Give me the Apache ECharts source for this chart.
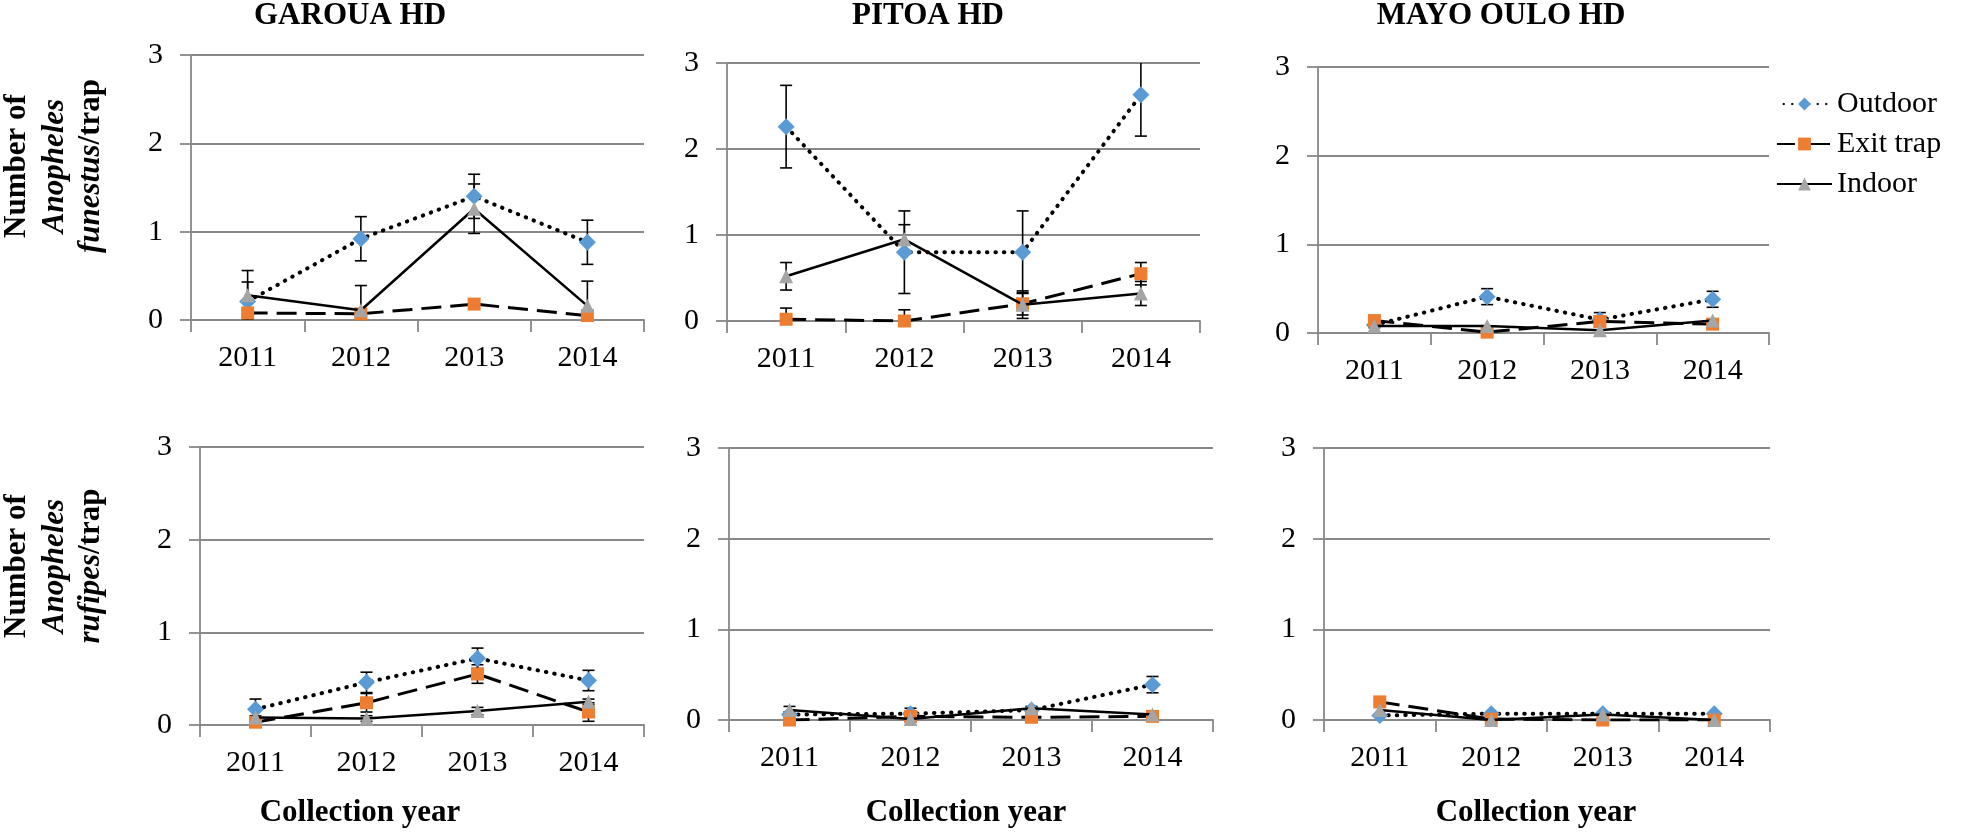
<!DOCTYPE html>
<html>
<head>
<meta charset="utf-8">
<script src="https://cdn.jsdelivr.net/npm/echarts@6/dist/echarts.min.js"></script>
<style>
  html, body { margin: 0; padding: 0; background: #fff; }
  #main { width: 1961px; height: 834px; }
</style>
</head>
<body>
<div id="main"></div>
<script>
// categories
var years = ['2011', '2012', '2013', '2014'];
var districts = ['GAROUA HD', 'PITOA HD', 'MAYO OULO HD'];
var trapNames = ['Outdoor', 'Exit trap', 'Indoor'];

// An. funestus (top row), one row per district: Garoua, Pitoa, Mayo Oulo
var funOutdoor = [[0.21, 0.92, 1.40, 0.88], [2.26, 0.80, 0.80, 2.63], [0.09, 0.41, 0.15, 0.38]];
var funOutdoorErr = [[0.22, 0.25, 0.25, 0.25], [0.48, 0.48, 0.48, 0.48], [0.03, 0.09, 0.08, 0.09]];
var funExit = [[0.08, 0.07, 0.18, 0.05], [0.02, 0.00, 0.20, 0.55], [0.14, 0.01, 0.13, 0.10]];
var funExitErr = [[0, 0, 0, 0], [0.13, 0.13, 0.13, 0.13], [0, 0, 0, 0]];
var funIndoor = [[0.28, 0.11, 1.26, 0.16], [0.52, 0.95, 0.19, 0.32], [0.08, 0.08, 0.03, 0.14]];
var funIndoorErr = [[0.28, 0.28, 0.28, 0.28], [0.16, 0.17, 0.16, 0.14], [0, 0, 0, 0]];

// An. rufipes (bottom row)
var rufOutdoor = [[0.17, 0.46, 0.72, 0.48], [0.06, 0.07, 0.11, 0.39], [0.05, 0.07, 0.07, 0.07]];
var rufOutdoorErr = [[0.11, 0.11, 0.11, 0.11], [0.03, 0.06, 0.03, 0.09], [0, 0, 0, 0]];
var rufExit = [[0.03, 0.24, 0.55, 0.14], [0.00, 0.04, 0.03, 0.04], [0.20, 0.01, 0.00, 0.00]];
var rufExitErr = [[0.03, 0.10, 0.10, 0.10], [0, 0, 0, 0], [0, 0, 0, 0]];
var rufIndoor = [[0.08, 0.07, 0.15, 0.25], [0.11, 0.01, 0.13, 0.06], [0.11, 0.00, 0.06, 0.00]];
var rufIndoorErr = [[0.02, 0.03, 0.04, 0.03], [0.04, 0, 0.02, 0], [0, 0, 0, 0]];

// y axis range / ticks
var yMin = 0, yMax = 3, yStep = 1;

var chart = echarts.init(document.getElementById('main'));
var FONT = '"Liberation Serif", "Times New Roman", serif';
var GRID_GREY = '#888888';

// plot boxes [left, top, width, height]
var boxes = [
    [191, 55, 453, 265], [727, 63, 473, 258], [1318, 67, 451, 266],
    [200, 447, 444, 278], [729, 448, 484, 272], [1324, 448, 446, 272]
];

var rows = [
    {vals: [funOutdoor, funExit, funIndoor], errs: [funOutdoorErr, funExitErr, funIndoorErr]},
    {vals: [rufOutdoor, rufExit, rufIndoor], errs: [rufOutdoorErr, rufExitErr, rufIndoorErr]}
];

var looks = [
    {symbol: 'diamond', size: 17, color: '#5B9BD5', line: {color: '#000', width: 4, type: [0.5, 8], cap: 'round'}},
    {symbol: 'rect', size: 13, color: '#ED7D31', line: {color: '#000', width: 3, type: [20, 9]}},
    {symbol: 'triangle', size: 14, color: '#A5A5A5', line: {color: '#000', width: 2.5, type: 'solid'}}
];

function errorBars(params, api) {
    var e = api.value(2);
    if (!e) return null;
    var x = api.value(0), v = api.value(1);
    var hi = api.coord([x, v + e]);
    var lo = api.coord([x, v - e]);
    var w = 6;
    var st = {stroke: '#000', lineWidth: 1.6};
    return {
        type: 'group',
        children: [
            {type: 'line', shape: {x1: hi[0], y1: hi[1], x2: lo[0], y2: lo[1]}, style: st},
            {type: 'line', shape: {x1: hi[0] - w, y1: hi[1], x2: hi[0] + w, y2: hi[1]}, style: st},
            {type: 'line', shape: {x1: lo[0] - w, y1: lo[1], x2: lo[0] + w, y2: lo[1]}, style: st}
        ]
    };
}

var grids = [], xAxes = [], yAxes = [], series = [];
for (var r = 0; r < 2; r++) {
    for (var c = 0; c < 3; c++) {
        var i = r * 3 + c;
        var b = boxes[i];
        grids.push({left: b[0], top: b[1], width: b[2], height: b[3], containLabel: false});
        xAxes.push({
            type: 'category', gridIndex: i, data: years, boundaryGap: true,
            axisLine: {show: true, lineStyle: {color: GRID_GREY, width: 1.8}},
            axisTick: {show: true, length: 12, lineStyle: {color: GRID_GREY, width: 1.8}},
            axisLabel: {fontFamily: FONT, fontSize: 30, color: '#000', margin: 23}
        });
        yAxes.push({
            type: 'value', gridIndex: i, min: yMin, max: yMax, interval: yStep,
            axisLine: {show: true, lineStyle: {color: GRID_GREY, width: 1.8}},
            axisTick: {show: true, length: 11, lineStyle: {color: GRID_GREY, width: 1.8}},
            splitLine: {show: true, lineStyle: {color: GRID_GREY, width: 1.8}},
            axisLabel: {fontFamily: FONT, fontSize: 30, color: '#000', margin: 28}
        });
        for (var t = 0; t < 3; t++) {
            var vals = rows[r].vals[t][c];
            var errs = rows[r].errs[t][c];
            series.push({
                type: 'custom', xAxisIndex: i, yAxisIndex: i, clip: true, z: 3,
                silent: true, renderItem: errorBars,
                data: vals.map(function (v, k) { return [k, v, errs[k]]; })
            });
        }
        for (var t2 = 0; t2 < 3; t2++) {
            var lk = looks[t2];
            series.push({
                name: trapNames[t2], type: 'line', xAxisIndex: i, yAxisIndex: i,
                data: rows[r].vals[t2][c], symbol: lk.symbol, symbolSize: lk.size,
                showSymbol: true, z: 4 + t2,
                itemStyle: {color: lk.color, borderWidth: 0},
                lineStyle: lk.line
            });
        }
    }
}

var graphics = [];
var titleX = [350, 928, 1501];
var xNameX = [360, 966, 1536];
for (var k = 0; k < 3; k++) {
    graphics.push({type: 'text', x: titleX[k], y: 16, style: {
        text: districts[k], font: 'bold 31px ' + FONT, fill: '#000', align: 'center', verticalAlign: 'middle'}});
    graphics.push({type: 'text', x: xNameX[k], y: 813, style: {
        text: 'Collection year', font: 'bold 31px ' + FONT, fill: '#000', align: 'center', verticalAlign: 'middle'}});
}
var rich = {
    b: {fontFamily: FONT, fontSize: 31, fontWeight: 'bold', fill: '#000'},
    bi: {fontFamily: FONT, fontSize: 31, fontWeight: 'bold', fontStyle: 'italic', fill: '#000'}
};
var yNames = [['{b|Number of}', '{bi|Anopheles}', '{bi|funestus}{b|/trap}'],
              ['{b|Number of}', '{bi|Anopheles}', '{bi|rufipes}{b|/trap}']];
var yNameY = [166, 566];
var yNameX = [17, 55, 91];
for (var rr = 0; rr < 2; rr++) {
    for (var ln = 0; ln < 3; ln++) {
        graphics.push({type: 'text', x: yNameX[ln], y: yNameY[rr], rotation: Math.PI / 2, style: {
            text: yNames[rr][ln], rich: rich, align: 'center', verticalAlign: 'middle'}});
    }
}

option = {
    animation: false,
    backgroundColor: '#fff',
    grid: grids,
    xAxis: xAxes,
    yAxis: yAxes,
    legend: {
        data: [
            {name: trapNames[0], lineStyle: {type: [0.5, 8], dashOffset: 2}},
            {name: trapNames[1], lineStyle: {type: [20, 15]}},
            {name: trapNames[2]}
        ],
        orient: 'vertical', left: 1771, top: 84,
        itemWidth: 55, itemHeight: 16, itemGap: 10, selectedMode: false,
        textStyle: {fontFamily: FONT, fontSize: 30, color: '#000'}
    },
    graphic: graphics,
    series: series
};

chart.setOption(option);
</script>
</body>
</html>
